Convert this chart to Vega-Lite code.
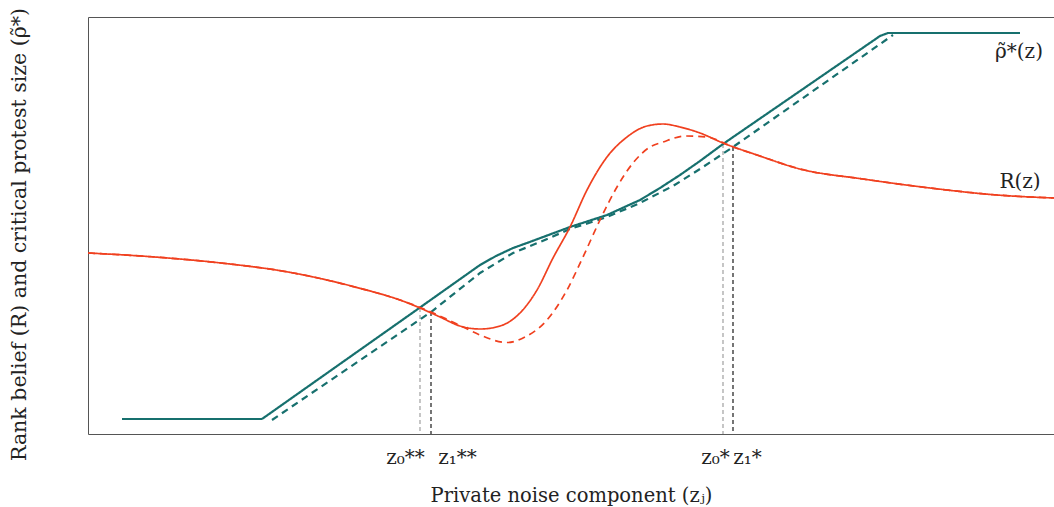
{
  "$schema": "https://vega.github.io/schema/vega-lite/v6.json",
  "width": 966,
  "height": 417,
  "autosize": "none",
  "padding": {"left": 88, "top": 17, "right": 0, "bottom": 73},
  "background": "white",
  "config": {
    "view": {"stroke": "#555", "strokeWidth": 1},
    "font": "DejaVu Serif"
  },
  "datasets": {
    "curves": [
      {"curve": "rho", "variant": "solid", "x": 34, "y": 15},
      {"curve": "rho", "variant": "solid", "x": 174, "y": 15},
      {"curve": "rho", "variant": "solid", "x": 332, "y": 126.5},
      {"curve": "rho", "variant": "solid", "x": 392, "y": 169},
      {"curve": "rho", "variant": "solid", "x": 408, "y": 178},
      {"curve": "rho", "variant": "solid", "x": 425, "y": 186},
      {"curve": "rho", "variant": "solid", "x": 439, "y": 191},
      {"curve": "rho", "variant": "solid", "x": 482, "y": 207},
      {"curve": "rho", "variant": "solid", "x": 519, "y": 219},
      {"curve": "rho", "variant": "solid", "x": 552, "y": 234},
      {"curve": "rho", "variant": "solid", "x": 572, "y": 246},
      {"curve": "rho", "variant": "solid", "x": 592, "y": 259},
      {"curve": "rho", "variant": "solid", "x": 612, "y": 273},
      {"curve": "rho", "variant": "solid", "x": 635, "y": 290},
      {"curve": "rho", "variant": "solid", "x": 792, "y": 398},
      {"curve": "rho", "variant": "solid", "x": 800, "y": 401},
      {"curve": "rho", "variant": "solid", "x": 932, "y": 401},
      {"curve": "rho", "variant": "dashed", "x": 184, "y": 14},
      {"curve": "rho", "variant": "dashed", "x": 343, "y": 122},
      {"curve": "rho", "variant": "dashed", "x": 392, "y": 161},
      {"curve": "rho", "variant": "dashed", "x": 410, "y": 172},
      {"curve": "rho", "variant": "dashed", "x": 425, "y": 181},
      {"curve": "rho", "variant": "dashed", "x": 452, "y": 192},
      {"curve": "rho", "variant": "dashed", "x": 482, "y": 205},
      {"curve": "rho", "variant": "dashed", "x": 519, "y": 217},
      {"curve": "rho", "variant": "dashed", "x": 552, "y": 231},
      {"curve": "rho", "variant": "dashed", "x": 585, "y": 248},
      {"curve": "rho", "variant": "dashed", "x": 612, "y": 265},
      {"curve": "rho", "variant": "dashed", "x": 645, "y": 287},
      {"curve": "rho", "variant": "dashed", "x": 805, "y": 399},
      {"curve": "R", "variant": "solid", "x": 0, "y": 181},
      {"curve": "R", "variant": "solid", "x": 67, "y": 177},
      {"curve": "R", "variant": "solid", "x": 133, "y": 171},
      {"curve": "R", "variant": "solid", "x": 200, "y": 162},
      {"curve": "R", "variant": "solid", "x": 267, "y": 147},
      {"curve": "R", "variant": "solid", "x": 320, "y": 131},
      {"curve": "R", "variant": "solid", "x": 332, "y": 126},
      {"curve": "R", "variant": "solid", "x": 352, "y": 117},
      {"curve": "R", "variant": "solid", "x": 372, "y": 108},
      {"curve": "R", "variant": "solid", "x": 392, "y": 105},
      {"curve": "R", "variant": "solid", "x": 412, "y": 108},
      {"curve": "R", "variant": "solid", "x": 432, "y": 121},
      {"curve": "R", "variant": "solid", "x": 449, "y": 144},
      {"curve": "R", "variant": "solid", "x": 465, "y": 176},
      {"curve": "R", "variant": "solid", "x": 482, "y": 207},
      {"curve": "R", "variant": "solid", "x": 499, "y": 244},
      {"curve": "R", "variant": "solid", "x": 519, "y": 277},
      {"curve": "R", "variant": "solid", "x": 539, "y": 297},
      {"curve": "R", "variant": "solid", "x": 559, "y": 308},
      {"curve": "R", "variant": "solid", "x": 575, "y": 310},
      {"curve": "R", "variant": "solid", "x": 592, "y": 307},
      {"curve": "R", "variant": "solid", "x": 612, "y": 301},
      {"curve": "R", "variant": "solid", "x": 635, "y": 291},
      {"curve": "R", "variant": "solid", "x": 669, "y": 279},
      {"curve": "R", "variant": "solid", "x": 712, "y": 265},
      {"curve": "R", "variant": "solid", "x": 775, "y": 255},
      {"curve": "R", "variant": "solid", "x": 842, "y": 246},
      {"curve": "R", "variant": "solid", "x": 909, "y": 239},
      {"curve": "R", "variant": "solid", "x": 966, "y": 236},
      {"curve": "R", "variant": "dashed", "x": 0, "y": 181},
      {"curve": "R", "variant": "dashed", "x": 67, "y": 177},
      {"curve": "R", "variant": "dashed", "x": 133, "y": 171},
      {"curve": "R", "variant": "dashed", "x": 200, "y": 162},
      {"curve": "R", "variant": "dashed", "x": 267, "y": 147},
      {"curve": "R", "variant": "dashed", "x": 312, "y": 134},
      {"curve": "R", "variant": "dashed", "x": 343, "y": 122},
      {"curve": "R", "variant": "dashed", "x": 375, "y": 107},
      {"curve": "R", "variant": "dashed", "x": 392, "y": 99},
      {"curve": "R", "variant": "dashed", "x": 419, "y": 91.5},
      {"curve": "R", "variant": "dashed", "x": 437, "y": 97},
      {"curve": "R", "variant": "dashed", "x": 459, "y": 114},
      {"curve": "R", "variant": "dashed", "x": 479, "y": 144},
      {"curve": "R", "variant": "dashed", "x": 495, "y": 177},
      {"curve": "R", "variant": "dashed", "x": 512, "y": 214},
      {"curve": "R", "variant": "dashed", "x": 529, "y": 247},
      {"curve": "R", "variant": "dashed", "x": 545, "y": 271},
      {"curve": "R", "variant": "dashed", "x": 562, "y": 287},
      {"curve": "R", "variant": "dashed", "x": 575, "y": 292},
      {"curve": "R", "variant": "dashed", "x": 598, "y": 298},
      {"curve": "R", "variant": "dashed", "x": 619, "y": 297},
      {"curve": "R", "variant": "dashed", "x": 645, "y": 287},
      {"curve": "R", "variant": "dashed", "x": 669, "y": 279},
      {"curve": "R", "variant": "dashed", "x": 712, "y": 265},
      {"curve": "R", "variant": "dashed", "x": 775, "y": 255},
      {"curve": "R", "variant": "dashed", "x": 842, "y": 246},
      {"curve": "R", "variant": "dashed", "x": 909, "y": 239},
      {"curve": "R", "variant": "dashed", "x": 966, "y": 236}
    ],
    "cutoffs": [
      {"name": "z0**", "x": 332, "top": 126, "kind": "z0"},
      {"name": "z1**", "x": 343, "top": 122, "kind": "z1"},
      {"name": "z0*", "x": 635, "top": 290, "kind": "z0"},
      {"name": "z1*", "x": 645, "top": 287, "kind": "z1"}
    ],
    "curveLabels": [
      {"label": "ρ̃*(z)", "x": 931, "y": 382},
      {"label": "R(z)", "x": 932, "y": 252}
    ]
  },
  "layer": [
    {
      "data": {"name": "cutoffs"},
      "transform": [{"filter": "datum.kind == 'z0'"}],
      "mark": {"type": "rule", "strokeWidth": 1.2, "strokeDash": [4, 3], "stroke": "#a0a0a0"},
      "encoding": {
        "x": {
          "field": "x",
          "type": "quantitative",
          "scale": {"domain": [0, 966], "nice": false, "zero": false},
          "axis": {
            "domain": false,
            "grid": false,
            "ticks": false,
            "values": [317, 369, 627, 659],
            "labelExpr": "datum.value == 317 ? 'z₀**' : datum.value == 369 ? 'z₁**' : datum.value == 627 ? 'z₀*' : 'z₁*'",
            "labelFont": "DejaVu Serif",
            "labelFontSize": 20,
            "labelColor": "#222",
            "labelPadding": 13,
            "title": "Private noise component (zⱼ)",
            "titleFont": "DejaVu Serif",
            "titleFontSize": 19.5,
            "titleFontWeight": "normal",
            "titleColor": "#222",
            "titleX": 483,
            "titleY": 61,
            "titleBaseline": "middle"
          }
        },
        "y": {
          "field": "top",
          "type": "quantitative",
          "scale": {"domain": [0, 417], "nice": false, "zero": false},
          "axis": {
            "domain": false,
            "grid": false,
            "ticks": false,
            "labels": false,
            "title": "Rank belief (R) and critical protest size (ρ̃*)",
            "titleFont": "DejaVu Serif",
            "titleFontSize": 20.5,
            "titleFontWeight": "normal",
            "titleColor": "#222",
            "titleAngle": 270,
            "titleX": -69,
            "titleY": 217,
            "titleAlign": "center",
            "titleBaseline": "middle"
          }
        },
        "y2": {"datum": 0}
      }
    },
    {
      "data": {"name": "cutoffs"},
      "transform": [{"filter": "datum.kind == 'z1'"}],
      "mark": {"type": "rule", "strokeWidth": 1.2, "strokeDash": [4, 3], "stroke": "#1a1a1a"},
      "encoding": {
        "x": {"field": "x", "type": "quantitative"},
        "y": {"field": "top", "type": "quantitative"},
        "y2": {"datum": 0}
      }
    },
    {
      "data": {"name": "curves"},
      "transform": [{"filter": "datum.curve == 'rho'"}],
      "mark": {"type": "line", "interpolate": "linear", "strokeWidth": 2.2, "stroke": "#17706e"},
      "encoding": {
        "x": {"field": "x", "type": "quantitative"},
        "y": {"field": "y", "type": "quantitative"},
        "strokeDash": {
          "field": "variant",
          "type": "nominal",
          "scale": {"domain": ["solid", "dashed"], "range": [[1, 0], [7, 5]]},
          "legend": null
        }
      }
    },
    {
      "data": {"name": "curves"},
      "transform": [{"filter": "datum.curve == 'R'"}],
      "mark": {"type": "line", "interpolate": "monotone", "strokeWidth": 1.7, "stroke": "#f0401f"},
      "encoding": {
        "x": {"field": "x", "type": "quantitative"},
        "y": {"field": "y", "type": "quantitative"},
        "strokeDash": {
          "field": "variant",
          "type": "nominal",
          "scale": {"domain": ["solid", "dashed"], "range": [[1, 0], [7, 5]]},
          "legend": null
        }
      }
    },
    {
      "data": {"name": "curveLabels"},
      "mark": {"type": "text", "font": "DejaVu Serif", "fontSize": 20, "color": "#222", "align": "center", "baseline": "middle"},
      "encoding": {
        "x": {"field": "x", "type": "quantitative"},
        "y": {"field": "y", "type": "quantitative"},
        "text": {"field": "label"}
      }
    }
  ]
}
